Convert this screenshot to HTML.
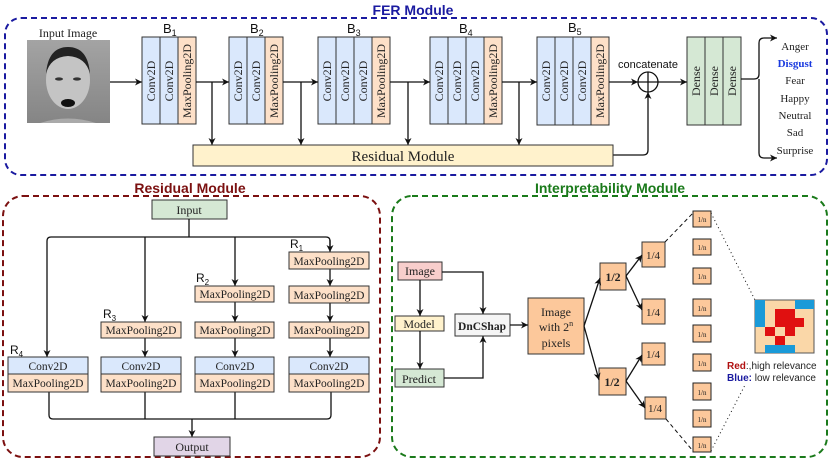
<!DOCTYPE html>
<html><head><meta charset="utf-8"><style>
html,body{margin:0;padding:0;background:#fff}
svg{display:block}
.s{font-family:"Liberation Serif",serif;fill:#222}
.a{font-family:"Liberation Sans",sans-serif;fill:#111}
</style></head><body>
<svg width="831" height="462" viewBox="0 0 831 462" xmlns="http://www.w3.org/2000/svg">
<defs>
<marker id="ar" markerWidth="8" markerHeight="8" refX="7" refY="4" orient="auto" markerUnits="userSpaceOnUse"><path d="M0,0.5 L7,4 L0,7.5 L2,4 z" fill="#111"/></marker>
<linearGradient id="face" x1="0" y1="0" x2="0" y2="1"><stop offset="0" stop-color="#aaa"/><stop offset="1" stop-color="#777"/></linearGradient>
</defs>

<!-- FER module -->
<text x="413" y="15" text-anchor="middle" font-family="Liberation Sans,sans-serif" font-weight="bold" font-size="14" fill="#1a1aa0">FER Module</text>
<rect x="5" y="18" width="822" height="157" rx="16" fill="none" stroke="#1a1aa0" stroke-width="2" stroke-dasharray="6,4"/>

<text x="68" y="37" text-anchor="middle" class="s" font-size="12">Input Image</text>
<rect x="27" y="40" width="83" height="83" fill="#9a9a9a"/>
<rect x="27" y="40" width="83" height="83" fill="url(#face)" opacity="0.6"/>
<ellipse cx="68" cy="80" rx="22" ry="29" fill="#c4c4c4"/>
<path d="M46,74 Q48,47 68,47 Q88,47 90,74 Q86,57 68,56 Q50,57 46,74z" fill="#222"/>
<ellipse cx="59" cy="79" rx="4" ry="1.6" fill="#333"/><ellipse cx="77" cy="79" rx="4" ry="1.6" fill="#333"/>
<ellipse cx="68" cy="103" rx="7" ry="4" fill="#111"/>
<path d="M40,123 Q68,114 96,123z" fill="#aaa"/>
<line x1="110" y1="82" x2="142" y2="82" stroke="#111" stroke-width="1.3" marker-end="url(#ar)"/>

<g stroke="#333" stroke-width="1">
<rect x="142" y="37" width="18" height="87" fill="#dae8fc"/><rect x="160" y="37" width="18" height="87" fill="#dae8fc"/><rect x="178" y="37" width="18" height="87" fill="#fde0c8"/>
<rect x="229" y="37" width="18" height="87" fill="#dae8fc"/><rect x="247" y="37" width="18" height="87" fill="#dae8fc"/><rect x="265" y="37" width="18" height="87" fill="#fde0c8"/>
<rect x="318" y="37" width="18" height="87" fill="#dae8fc"/><rect x="336" y="37" width="18" height="87" fill="#dae8fc"/><rect x="354" y="37" width="18" height="87" fill="#dae8fc"/><rect x="372" y="37" width="18" height="87" fill="#fde0c8"/>
<rect x="430" y="37" width="18" height="87" fill="#dae8fc"/><rect x="448" y="37" width="18" height="87" fill="#dae8fc"/><rect x="466" y="37" width="18" height="87" fill="#dae8fc"/><rect x="484" y="37" width="18" height="87" fill="#fde0c8"/>
<rect x="537" y="37" width="18" height="88" fill="#dae8fc"/><rect x="555" y="37" width="18" height="88" fill="#dae8fc"/><rect x="573" y="37" width="18" height="88" fill="#dae8fc"/><rect x="591" y="37" width="18" height="88" fill="#fde0c8"/>
<rect x="687" y="37" width="18" height="88" fill="#d5e8d4"/><rect x="705" y="37" width="18" height="88" fill="#d5e8d4"/><rect x="723" y="37" width="18" height="88" fill="#d5e8d4"/>
</g>
<g class="s" font-size="12">
<text transform="translate(155,81) rotate(-90)" text-anchor="middle">Conv2D</text>
<text transform="translate(173,81) rotate(-90)" text-anchor="middle">Conv2D</text>
<text transform="translate(191,81) rotate(-90)" text-anchor="middle">MaxPooling2D</text>
<text transform="translate(242,81) rotate(-90)" text-anchor="middle">Conv2D</text>
<text transform="translate(260,81) rotate(-90)" text-anchor="middle">Conv2D</text>
<text transform="translate(278,81) rotate(-90)" text-anchor="middle">MaxPooling2D</text>
<text transform="translate(331,81) rotate(-90)" text-anchor="middle">Conv2D</text>
<text transform="translate(349,81) rotate(-90)" text-anchor="middle">Conv2D</text>
<text transform="translate(367,81) rotate(-90)" text-anchor="middle">Conv2D</text>
<text transform="translate(385,81) rotate(-90)" text-anchor="middle">MaxPooling2D</text>
<text transform="translate(443,81) rotate(-90)" text-anchor="middle">Conv2D</text>
<text transform="translate(461,81) rotate(-90)" text-anchor="middle">Conv2D</text>
<text transform="translate(479,81) rotate(-90)" text-anchor="middle">Conv2D</text>
<text transform="translate(497,81) rotate(-90)" text-anchor="middle">MaxPooling2D</text>
<text transform="translate(550,81) rotate(-90)" text-anchor="middle">Conv2D</text>
<text transform="translate(568,81) rotate(-90)" text-anchor="middle">Conv2D</text>
<text transform="translate(586,81) rotate(-90)" text-anchor="middle">Conv2D</text>
<text transform="translate(604,81) rotate(-90)" text-anchor="middle">MaxPooling2D</text>
<text transform="translate(700,81) rotate(-90)" text-anchor="middle">Dense</text>
<text transform="translate(718,81) rotate(-90)" text-anchor="middle">Dense</text>
<text transform="translate(736,81) rotate(-90)" text-anchor="middle">Dense</text>
</g>
<g class="a" font-size="13">
<text x="163" y="33">B<tspan font-size="9" dy="3">1</tspan></text>
<text x="250" y="33">B<tspan font-size="9" dy="3">2</tspan></text>
<text x="347" y="33">B<tspan font-size="9" dy="3">3</tspan></text>
<text x="459" y="33">B<tspan font-size="9" dy="3">4</tspan></text>
<text x="568" y="32">B<tspan font-size="9" dy="3">5</tspan></text>
<text x="648" y="68" text-anchor="middle" font-size="11">concatenate</text>
</g>
<g stroke="#111" stroke-width="1.3" fill="none">
<line x1="196" y1="82" x2="229" y2="82" marker-end="url(#ar)"/>
<line x1="212" y1="82" x2="212" y2="145" marker-end="url(#ar)"/>
<line x1="283" y1="82" x2="318" y2="82" marker-end="url(#ar)"/>
<line x1="301" y1="82" x2="301" y2="145" marker-end="url(#ar)"/>
<line x1="390" y1="82" x2="430" y2="82" marker-end="url(#ar)"/>
<line x1="408" y1="82" x2="408" y2="145" marker-end="url(#ar)"/>
<line x1="502" y1="82" x2="537" y2="82" marker-end="url(#ar)"/>
<line x1="519" y1="82" x2="519" y2="145" marker-end="url(#ar)"/>
<line x1="609" y1="82" x2="638" y2="82" marker-end="url(#ar)"/>
<path d="M613,155 L643,155 Q648,155 648,150 L648,92" marker-end="url(#ar)"/>
<line x1="658" y1="82" x2="687" y2="82" marker-end="url(#ar)"/>
<circle cx="648" cy="82" r="10" fill="#fff"/>
<line x1="638" y1="82" x2="658" y2="82"/><line x1="648" y1="72" x2="648" y2="92"/>
<path d="M741,79 L754,79 Q759,79 759,74 L759,43 Q759,38 764,38 L777,38" marker-end="url(#ar)"/>
<path d="M759,79 L759,153 Q759,158 764,158 L777,158" marker-end="url(#ar)"/>
</g>
<rect x="193" y="145" width="420" height="21" fill="#fff2cc" stroke="#333"/>
<text x="403" y="161" text-anchor="middle" class="s" font-size="15">Residual Module</text>
<g class="s" font-size="11" text-anchor="middle">
<text x="795" y="50">Anger</text>
<text x="795" y="67" font-weight="bold" style="fill:#1a3adf">Disgust</text>
<text x="795" y="84">Fear</text>
<text x="795" y="102">Happy</text>
<text x="795" y="119">Neutral</text>
<text x="795" y="136">Sad</text>
<text x="795" y="154">Surprise</text>
</g>

<!-- Residual module -->
<text x="190" y="193" text-anchor="middle" font-family="Liberation Sans,sans-serif" font-weight="bold" font-size="14" fill="#7b1010">Residual Module</text>
<rect x="3" y="196" width="377" height="261" rx="20" fill="none" stroke="#7b1010" stroke-width="2" stroke-dasharray="6,4"/>
<rect x="152" y="200" width="75" height="19" fill="#d5e8d4" stroke="#333"/>
<text x="189" y="214" text-anchor="middle" class="s" font-size="12">Input</text>
<g stroke="#111" stroke-width="1.3" fill="none">
<line x1="189" y1="219" x2="189" y2="237"/>
<path d="M330,250 L330,241 Q330,237 326,237 L51,237 Q47,237 47,241 L47,357" marker-end="url(#ar)"/>
<line x1="145" y1="237" x2="145" y2="322" marker-end="url(#ar)"/>
<line x1="235" y1="237" x2="235" y2="286" marker-end="url(#ar)"/>
<line x1="330" y1="240" x2="330" y2="252" marker-end="url(#ar)"/>
<line x1="330" y1="269" x2="330" y2="286" marker-end="url(#ar)"/>
<line x1="330" y1="303" x2="330" y2="322" marker-end="url(#ar)"/>
<line x1="330" y1="338" x2="330" y2="357" marker-end="url(#ar)"/>
<line x1="235" y1="302" x2="235" y2="322" marker-end="url(#ar)"/>
<line x1="235" y1="338" x2="235" y2="357" marker-end="url(#ar)"/>
<line x1="145" y1="338" x2="145" y2="357" marker-end="url(#ar)"/>
<path d="M49,392 L49,415 Q49,419 53,419 L327,419 Q331,419 331,415 L331,392"/>
<line x1="145" y1="392" x2="145" y2="419"/><line x1="235" y1="392" x2="235" y2="419"/>
<line x1="192" y1="419" x2="192" y2="437" marker-end="url(#ar)"/>
</g>
<g stroke="#333" stroke-width="1">
<rect x="289" y="252" width="80" height="17" fill="#fde0c8"/>
<rect x="289" y="286" width="80" height="17" fill="#fde0c8"/>
<rect x="289" y="322" width="80" height="16" fill="#fde0c8"/>
<rect x="195" y="286" width="79" height="16" fill="#fde0c8"/>
<rect x="195" y="322" width="79" height="16" fill="#fde0c8"/>
<rect x="101" y="322" width="80" height="16" fill="#fde0c8"/>
<rect x="8" y="357" width="80" height="17" fill="#dae8fc"/><rect x="8" y="374" width="80" height="18" fill="#fde0c8"/>
<rect x="101" y="357" width="80" height="17" fill="#dae8fc"/><rect x="101" y="374" width="80" height="18" fill="#fde0c8"/>
<rect x="195" y="357" width="79" height="17" fill="#dae8fc"/><rect x="195" y="374" width="79" height="18" fill="#fde0c8"/>
<rect x="289" y="357" width="80" height="17" fill="#dae8fc"/><rect x="289" y="374" width="80" height="18" fill="#fde0c8"/>
<rect x="154" y="437" width="76" height="19" fill="#e1d5e7"/>
</g>
<g class="s" font-size="11.5" text-anchor="middle">
<text x="329" y="265">MaxPooling2D</text>
<text x="329" y="299">MaxPooling2D</text>
<text x="329" y="334">MaxPooling2D</text>
<text x="235" y="298">MaxPooling2D</text>
<text x="235" y="334">MaxPooling2D</text>
<text x="141" y="334">MaxPooling2D</text>
<text x="48" y="370">Conv2D</text><text x="48" y="387">MaxPooling2D</text>
<text x="141" y="370">Conv2D</text><text x="141" y="387">MaxPooling2D</text>
<text x="235" y="370">Conv2D</text><text x="235" y="387">MaxPooling2D</text>
<text x="329" y="370">Conv2D</text><text x="329" y="387">MaxPooling2D</text>
<text x="192" y="451" font-size="12">Output</text>
</g>
<g class="a" font-size="12">
<text x="290" y="248">R<tspan font-size="8" dy="3">1</tspan></text>
<text x="196" y="282">R<tspan font-size="8" dy="3">2</tspan></text>
<text x="103" y="318">R<tspan font-size="8" dy="3">3</tspan></text>
<text x="10" y="354">R<tspan font-size="8" dy="3">4</tspan></text>
</g>

<!-- Interpretability -->
<text x="610" y="193" text-anchor="middle" font-family="Liberation Sans,sans-serif" font-weight="bold" font-size="14" fill="#1a7a1a">Interpretability Module</text>
<rect x="392" y="196" width="435" height="261" rx="20" fill="none" stroke="#1a7a1a" stroke-width="2" stroke-dasharray="6,4"/>
<g stroke="#333" stroke-width="1">
<rect x="398" y="262" width="44" height="18" fill="#f8cecc"/>
<rect x="395" y="316" width="49" height="15" fill="#fff2cc"/>
<rect x="395" y="369" width="49" height="18" fill="#d5e8d4"/>
<rect x="455" y="314" width="55" height="22" fill="#f5f5f5"/>
<rect x="528" y="298" width="56" height="56" fill="#fcc89b"/>
<rect x="600" y="263" width="26" height="27" fill="#fcc89b"/>
<rect x="599" y="368" width="27" height="27" fill="#fcc89b"/>
<rect x="642" y="242" width="23" height="25" fill="#fcc89b"/>
<rect x="642" y="299" width="23" height="25" fill="#fcc89b"/>
<rect x="642" y="343" width="23" height="22" fill="#fcc89b"/>
<rect x="645" y="397" width="21" height="22" fill="#fcc89b"/>
</g>
<g stroke="#222" stroke-width="1" fill="#fcc89b">
<rect x="693" y="211" width="18" height="16"/><rect x="693" y="239" width="18" height="16"/>
<rect x="693" y="268" width="18" height="16"/><rect x="693" y="299" width="18" height="17"/>
<rect x="693" y="325" width="18" height="17"/><rect x="693" y="354" width="18" height="17"/>
<rect x="693" y="383" width="18" height="17"/><rect x="693" y="410" width="18" height="17"/>
<rect x="693" y="437" width="18" height="15"/>
</g>
<g class="s" font-size="12" text-anchor="middle">
<text x="420" y="275">Image</text>
<text x="419" y="328">Model</text>
<text x="419" y="383">Predict</text>
<text x="482" y="330" font-weight="bold" font-size="11.5">DnCShap</text>
<text x="556" y="316">Image</text>
<text x="556" y="331">with 2<tspan font-size="8" dy="-5">n</tspan></text>
<text x="556" y="347">pixels</text>
<text x="613" y="281" font-weight="bold">1/2</text>
<text x="612" y="386" font-weight="bold">1/2</text>
<text x="653" y="259" font-size="11">1/4</text>
<text x="653" y="316" font-size="11">1/4</text>
<text x="653" y="358" font-size="11">1/4</text>
<text x="655" y="412" font-size="11">1/4</text>
</g>
<g class="s" font-size="7" text-anchor="middle">
<text x="702" y="222">1/n</text><text x="702" y="250">1/n</text><text x="702" y="279">1/n</text>
<text x="702" y="311">1/n</text><text x="702" y="337">1/n</text><text x="702" y="366">1/n</text>
<text x="702" y="395">1/n</text><text x="702" y="422">1/n</text><text x="702" y="448">1/n</text>
</g>
<g stroke="#111" stroke-width="1.3" fill="none">
<line x1="420" y1="280" x2="420" y2="316" marker-end="url(#ar)"/>
<line x1="420" y1="331" x2="420" y2="369" marker-end="url(#ar)"/>
<path d="M442,272 L483,272 L483,314" marker-end="url(#ar)"/>
<path d="M444,378 L483,378 L483,336" marker-end="url(#ar)"/>
<line x1="510" y1="325" x2="528" y2="325" marker-end="url(#ar)"/>
<line x1="584" y1="326" x2="600" y2="278" marker-end="url(#ar)"/>
<line x1="584" y1="326" x2="599" y2="380" marker-end="url(#ar)"/>
<line x1="626" y1="276" x2="642" y2="255" marker-end="url(#ar)"/>
<line x1="626" y1="276" x2="642" y2="310" marker-end="url(#ar)"/>
<line x1="626" y1="381" x2="642" y2="355" marker-end="url(#ar)"/>
<line x1="626" y1="381" x2="645" y2="408" marker-end="url(#ar)"/>
<line x1="665" y1="242" x2="693" y2="213" stroke-dasharray="4,3" stroke-width="1"/>
<line x1="666" y1="419" x2="693" y2="451" stroke-dasharray="4,3" stroke-width="1"/>
<line x1="711" y1="213" x2="755" y2="300" stroke-dasharray="1,3" stroke-width="1"/>
<line x1="711" y1="451" x2="745" y2="385" stroke-dasharray="1,3" stroke-width="1"/>
</g>
<g>
<rect x="755" y="300" width="59" height="53" fill="#fad7a8" stroke="#555"/>
<g fill="#1a9ad8">
<rect x="755" y="300" width="10" height="27"/>
<rect x="795" y="300" width="19" height="9"/>
<rect x="765" y="345" width="30" height="8"/>
</g>
<g fill="#e01010">
<rect x="775" y="309" width="20" height="9"/>
<rect x="775" y="318" width="29" height="9"/>
<rect x="765" y="327" width="10" height="9"/>
<rect x="785" y="327" width="10" height="9"/>
<rect x="775" y="336" width="10" height="9"/>
</g>
</g>
<text x="727" y="369" font-family="Liberation Sans,sans-serif" font-size="10"><tspan font-weight="bold" fill="#b01010">Red</tspan><tspan fill="#222">:,high relevance</tspan></text>
<text x="727" y="381" font-family="Liberation Sans,sans-serif" font-size="10"><tspan font-weight="bold" fill="#1a1aa0">Blue:</tspan><tspan fill="#222"> low relevance</tspan></text>
</svg>
</body></html>
